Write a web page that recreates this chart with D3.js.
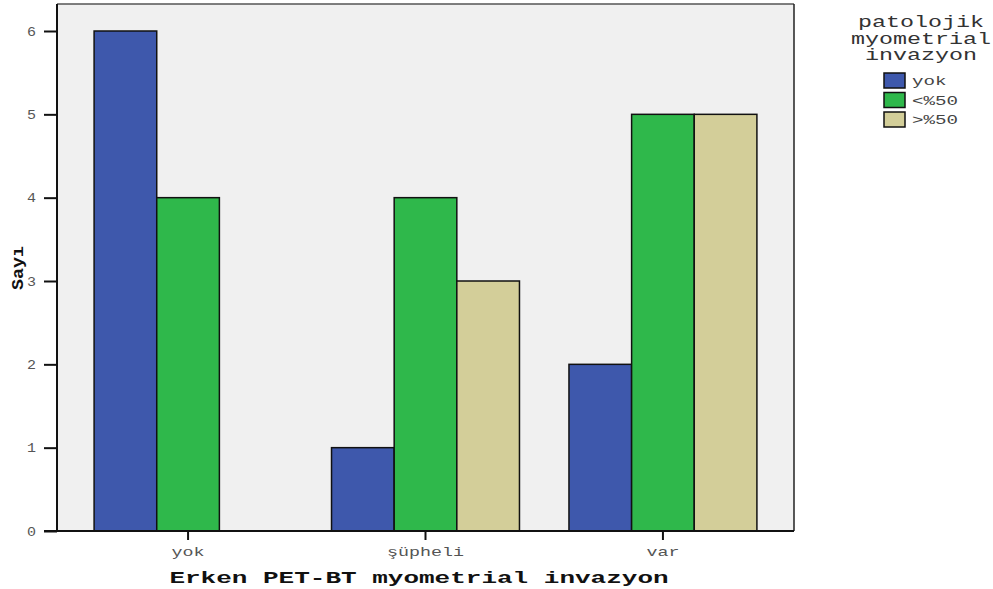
<!DOCTYPE html>
<html>
<head>
<meta charset="utf-8">
<script src="https://cdn.jsdelivr.net/npm/d3@7"></script>
<style>
  html, body { margin: 0; padding: 0; background: #fff; }
  svg text { font-family: "Liberation Mono", "DejaVu Sans Mono", monospace; }
</style>
</head>
<body>
<svg id="chart" width="993" height="589"></svg>
<script>
// Counts by early PET-CT myometrial invasion, split by pathological invasion
const categories = ["yok", "şüpheli", "var"];
const seriesNames = ["yok", "<%50", ">%50"];
const seriesYok = [6, 1, 2];
const seriesUnder50 = [4, 4, 5];
const seriesOver50 = [0, 3, 5];
const yTicks = [0, 1, 2, 3, 4, 5, 6];
const colors = ["#3e58ac", "#2fb84b", "#d3ce99"];
const legendTitle = ["patolojik", "myometrial", "invazyon"];

const seriesValues = [seriesYok, seriesUnder50, seriesOver50];

// wide typewriter look: stretch each label to a fixed advance per character
function widen(sel, perChar) {
  sel.each(function () {
    const t = d3.select(this);
    const n = Array.from(t.text()).length;
    t.attr("textLength", n * perChar).attr("lengthAdjust", "spacingAndGlyphs");
  });
}

const svg = d3.select("#chart");
const plot = { left: 57, right: 794, top: 4, bottom: 531 };

svg.append("rect")
  .attr("x", plot.left).attr("y", plot.top)
  .attr("width", plot.right - plot.left).attr("height", plot.bottom - plot.top)
  .attr("fill", "#f0f0f0");

const x0 = d3.scaleBand().domain(categories)
  .range([plot.left, plot.right]).paddingInner(0).paddingOuter(0.052);
const x1 = d3.scaleBand().domain(seriesNames)
  .range([0, x0.bandwidth()]).paddingInner(0).paddingOuter(0.395);
const y = d3.scaleLinear().domain([0, 6]).range([plot.bottom, plot.bottom - 500]);

// bars
const groups = svg.append("g").selectAll("g").data(categories).join("g")
  .attr("transform", d => `translate(${x0(d)},0)`);
groups.selectAll("rect")
  .data((c, ci) => seriesNames.map((s, si) => ({ s, si, v: seriesValues[si][ci] })).filter(d => d.v > 0))
  .join("rect")
  .attr("x", d => x1(d.s))
  .attr("width", x1.bandwidth())
  .attr("y", d => y(d.v))
  .attr("height", d => y(0) - y(d.v))
  .attr("fill", d => colors[d.si])
  .attr("stroke", "#111")
  .attr("stroke-width", 1.5);

// frame: top and right lighter, left and bottom are axis lines
svg.append("line").attr("x1", plot.left).attr("x2", plot.right).attr("y1", plot.top).attr("y2", plot.top)
  .attr("stroke", "#555").attr("stroke-width", 1.5);
svg.append("line").attr("x1", plot.right).attr("x2", plot.right).attr("y1", plot.top).attr("y2", plot.bottom)
  .attr("stroke", "#222").attr("stroke-width", 1.5);

// y axis
const yAxis = d3.axisLeft(y).tickValues(yTicks).tickFormat(d3.format("d")).tickSize(13).tickPadding(8);
const gy = svg.append("g").attr("transform", `translate(${plot.left},0)`).call(yAxis);
gy.select(".domain").attr("stroke", "#111").attr("stroke-width", 2).attr("d", `M0,${plot.top}V${plot.bottom}`);
gy.selectAll(".tick line").attr("stroke", "#111").attr("stroke-width", 2);
gy.selectAll(".tick text").attr("fill", "#555").attr("font-size", 13)
  .attr("font-family", "Liberation Mono, monospace");
widen(gy.selectAll(".tick text"), 9);

// x axis
const xAxis = d3.axisBottom(x0).tickSize(9).tickPadding(7);
const gx = svg.append("g").attr("transform", `translate(0,${plot.bottom})`).call(xAxis);
gx.select(".domain").attr("stroke", "#111").attr("stroke-width", 2).attr("d", `M${plot.left - 13},0H${plot.right}`);
gx.selectAll(".tick line").attr("stroke", "#111").attr("stroke-width", 2);
gx.selectAll(".tick text").attr("fill", "#555").attr("font-size", 13)
  .attr("font-family", "Liberation Mono, monospace");
widen(gx.selectAll(".tick text"), 11);

// axis titles
widen(svg.append("text").attr("x", 419).attr("y", 583)
  .attr("text-anchor", "middle").attr("font-size", 17).attr("font-weight", "bold").attr("fill", "#111")
  .text("Erken PET-BT myometrial invazyon"), 15.6);
widen(svg.append("text").attr("transform", "translate(23,268) rotate(-90)")
  .attr("text-anchor", "middle").attr("font-size", 17).attr("font-weight", "bold").attr("fill", "#111")
  .text("Sayı"), 11);

// legend
const lg = svg.append("g");
widen(lg.selectAll("text.title").data(legendTitle).join("text").attr("class", "title")
  .attr("x", 921).attr("y", (d, i) => 27 + i * 16.5)
  .attr("text-anchor", "middle").attr("font-size", 16).attr("fill", "#333")
  .text(d => d), 14);
const items = lg.selectAll("g.item").data(seriesNames).join("g").attr("class", "item")
  .attr("transform", (d, i) => `translate(884,${73 + i * 19.5})`);
items.append("rect").attr("width", 21).attr("height", 15)
  .attr("fill", (d, i) => colors[i]).attr("stroke", "#111").attr("stroke-width", 1.5);
widen(items.append("text").attr("x", 28).attr("y", 12).attr("font-size", 13).attr("fill", "#444")
  .text(d => d), 11.5);
</script>
</body>
</html>
